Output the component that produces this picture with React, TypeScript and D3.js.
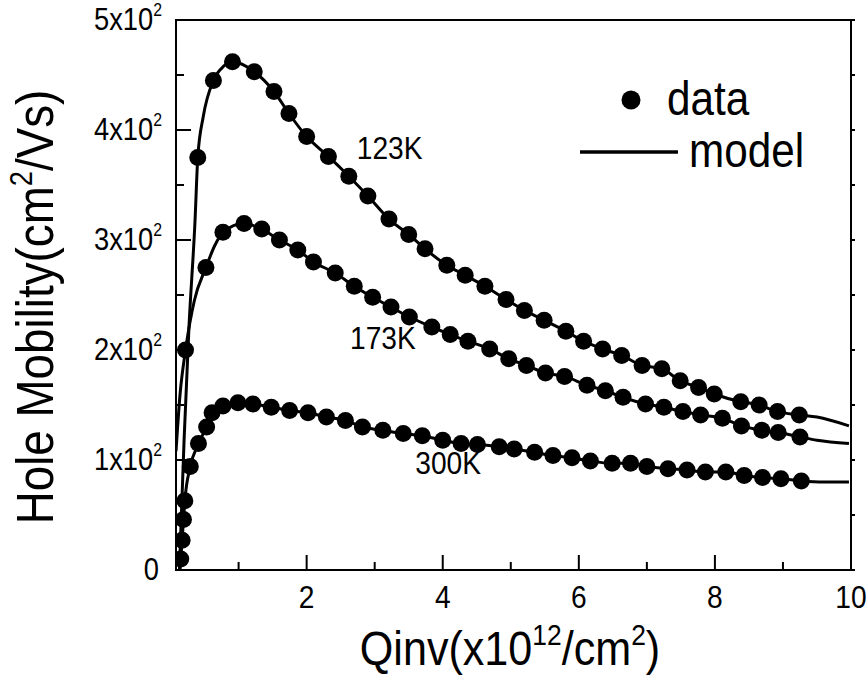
import React from 'react'
import * as d3 from 'd3'

// Qinv (x10^12 /cm^2) and hole mobility (cm^2/Vs)
const q123 = [0.40, 0.63, 0.91, 1.23, 1.52, 1.74, 2.00, 2.32, 2.62, 2.90, 3.21, 3.50, 3.74, 4.06, 4.33, 4.62, 4.93, 5.20, 5.49, 5.81, 6.07, 6.35, 6.63, 6.93, 7.22, 7.49, 7.76, 7.99, 8.38, 8.65, 8.92, 9.24]
const mu123 = [375, 445, 462, 453, 435, 415, 394, 376, 358, 340, 319, 305, 292, 277, 268, 258, 246, 236, 227, 217, 208, 201, 195, 186, 183, 172, 166, 160, 153, 150, 144, 141]

const q173 = [0.22, 0.52, 0.77, 1.08, 1.34, 1.60, 1.87, 2.10, 2.42, 2.70, 2.97, 3.24, 3.51, 3.84, 4.11, 4.37, 4.69, 4.97, 5.23, 5.51, 5.79, 6.12, 6.39, 6.65, 6.98, 7.25, 7.53, 7.79, 8.11, 8.39, 8.69, 8.93, 9.25]
const mu173 = [200, 275, 307, 315, 310, 300, 291, 280, 270, 258, 248, 239, 230, 221, 214, 208, 201, 192, 186, 179, 176, 168, 163, 157, 151, 148, 144, 141, 138, 131, 127, 125, 121]

const q300 = [0.15, 0.17, 0.19, 0.21, 0.29, 0.41, 0.53, 0.61, 0.77, 0.99, 1.21, 1.48, 1.75, 2.02, 2.29, 2.57, 2.82, 3.12, 3.42, 3.70, 4.00, 4.27, 4.51, 4.83, 5.05, 5.35, 5.62, 5.90, 6.17, 6.49, 6.76, 7.00, 7.31, 7.59, 7.86, 8.16, 8.43, 8.70, 8.97, 9.27]
const mu300 = [10, 27, 46, 63, 94, 115, 130, 143, 149, 152, 151, 148, 145, 143, 139, 136, 130, 127, 124, 122, 118, 115, 114, 112, 110, 107, 104, 102, 99, 97, 97, 94, 92, 91, 89, 89, 86, 84, 83, 81]

// extra points the model curves pass through outside / between the data
const model123Q = [0.13, 0.20, 0.27, 0.36, 0.48, 0.78, 9.50, 9.97]
const model123Mu = [0, 120, 220, 318, 412, 458, 139, 131]
const model173Q = [0.08, 0.14, 0.35, 0.65, 9.50, 9.97]
const model173Mu = [108, 160, 245, 295, 118, 115]
const model300Q = [0.14, 1.10, 9.60, 9.97]
const model300Mu = [0, 152, 80, 80]

const xMajor = [2, 4, 6, 8, 10]
const xMinor = [1, 3, 5, 7, 9]
const yMajor = [0, 100, 200, 300, 400, 500]
const yMinor = [50, 150, 250, 350, 450]
const yTickText = ['0', '1x10', '2x10', '3x10', '4x10', '5x10']

const seriesLabels = [
  {text: '123K', q: 3.22, mu: 374},
  {text: '173K', q: 3.12, mu: 201},
  {text: '300K', q: 4.08, mu: 87},
]

const W = 867
const H = 682
const left = 176
const right = 851
const top = 20
const bottom = 570
const SX = 0.88
const font = 'Liberation Sans, Arial, Helvetica, sans-serif'

const x = d3.scaleLinear().domain([0.08, 10]).range([left, right])
const y = d3.scaleLinear().domain([0, 500]).range([bottom, top])

const pairs = (qs: number[], ms: number[]) => qs.map((q, i) => [q, ms[i]] as [number, number])
const merged = (a: [number, number][], b: [number, number][]) => a.concat(b).sort((p, r) => p[0] - r[0])

const line = d3.line<[number, number]>()
  .x(d => x(d[0]))
  .y(d => y(d[1]))
  .curve(d3.curveMonotoneX)

const series = [
  {data: pairs(q123, mu123), model: merged(pairs(q123, mu123), pairs(model123Q, model123Mu))},
  {data: pairs(q173, mu173), model: merged(pairs(q173, mu173), pairs(model173Q, model173Mu))},
  {data: pairs(q300, mu300), model: merged(pairs(q300, mu300), pairs(model300Q, model300Mu))},
]

// text squeezed horizontally like the original render
const T = ({tx, ty, rot = 0, size, anchor = 'start', children}: any) => (
  <text transform={`translate(${tx},${ty}) rotate(${rot}) scale(${SX},1)`}
    fontSize={size} fontFamily={font} textAnchor={anchor} fill="#000">{children}</text>
)

const App = () => {
  return (
    <svg width={W} height={H} style={{position: 'absolute', left: 0, top: 0, background: '#fff'}}>
      <defs>
        <clipPath id="plot"><rect x={left} y={top} width={right - left} height={bottom - top}/></clipPath>
      </defs>

      <g clipPath="url(#plot)">
        {series.map((s, i) => (
          <path key={'m' + i} d={line(s.model) || ''} fill="none" stroke="#000" strokeWidth={3}/>
        ))}
        {series.map((s, i) => (
          <g key={'d' + i}>
            {s.data.map((d, j) => <circle key={j} cx={x(d[0])} cy={y(d[1])} r={8.5} fill="#000"/>)}
          </g>
        ))}
      </g>

      {/* frame */}
      <rect x={left} y={top} width={right - left} height={bottom - top} fill="none" stroke="#000" strokeWidth={2}/>

      {/* x ticks */}
      {xMajor.map(v => <line key={'xM' + v} x1={x(v)} x2={x(v)} y1={bottom} y2={bottom - 15} stroke="#000" strokeWidth={2}/>)}
      {xMinor.map(v => <line key={'xm' + v} x1={x(v)} x2={x(v)} y1={bottom} y2={bottom - 8} stroke="#000" strokeWidth={2}/>)}
      {xMajor.map(v => <T key={'xl' + v} tx={x(v)} ty={608} size={32} anchor="middle">{v}</T>)}

      {/* y ticks */}
      {yMajor.map(v => <line key={'yM' + v} x1={left} x2={left + 15} y1={y(v)} y2={y(v)} stroke="#000" strokeWidth={2}/>)}
      {yMinor.map(v => <line key={'ym' + v} x1={left} x2={left + 8} y1={y(v)} y2={y(v)} stroke="#000" strokeWidth={2}/>)}
      {yMajor.concat(yMinor).map(v => <line key={'yr' + v} x1={right} x2={right + 4} y1={y(v)} y2={y(v)} stroke="#000" strokeWidth={2}/>)}
      {yMajor.map((v, i) => (
        <T key={'yl' + v} tx={i === 0 ? 159 : 162} ty={y(v) + 10} size={31} anchor="end">
          {yTickText[i]}
          {i > 0 && <tspan fontSize={18} dy={-14}>2</tspan>}
        </T>
      ))}

      {/* axis titles */}
      <T tx={510} ty={665} size={49} anchor="middle">
        Qinv(x10<tspan fontSize={30} dy={-20}>12</tspan><tspan dy={20}>/cm</tspan><tspan fontSize={30} dy={-20}>2</tspan><tspan dy={20}>)</tspan>
      </T>
      <T tx={53} ty={307} rot={-90} size={52} anchor="middle">
        Hole Mobility(cm<tspan fontSize={31} dy={-21}>2</tspan><tspan dy={21}>/Vs)</tspan>
      </T>

      {/* series labels */}
      {seriesLabels.map(l => (
        <T key={l.text} tx={x(l.q)} ty={y(l.mu)} size={32} anchor="middle">{l.text}</T>
      ))}

      {/* legend */}
      <circle cx={631} cy={100} r={9.5} fill="#000"/>
      <T tx={667} ty={115} size={48}>data</T>
      <line x1={580} x2={678} y1={152} y2={152} stroke="#000" strokeWidth={3.5}/>
      <T tx={689} ty={167} size={48}>model</T>
    </svg>
  )
}

export default App
